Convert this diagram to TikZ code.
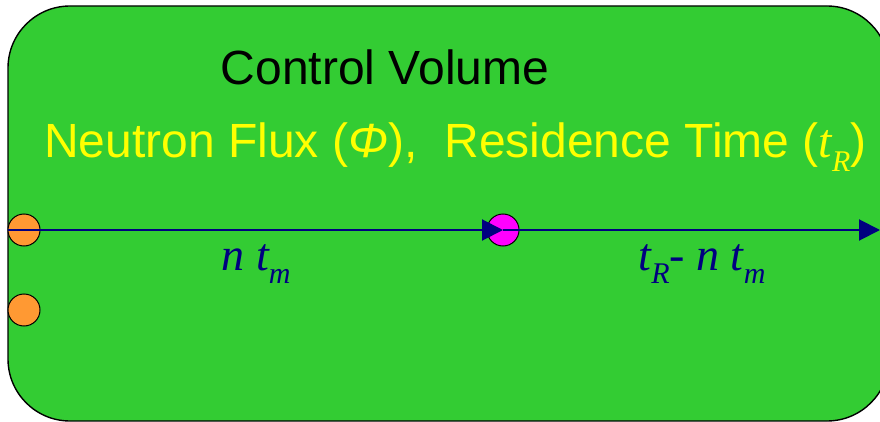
\documentclass[tikz,border=0pt]{standalone}
\usepackage{fontspec}
\setmainfont{Liberation Sans}
\newfontfamily\timesfont{Liberation Serif}
\usetikzlibrary{arrows.meta}
\definecolor{cvgreen}{RGB}{51,204,51}
\definecolor{navy}{RGB}{0,0,128}
\definecolor{fluxyellow}{RGB}{255,255,0}
\definecolor{orbit}{RGB}{255,153,51}
\definecolor{magentadot}{RGB}{255,0,255}
\newcommand{\tvar}[1]{{\timesfont\itshape #1}}
\newcommand{\lowidx}[1]{\raisebox{-13pt}{\fontsize{30}{30}\selectfont\timesfont\itshape #1}}
\tikzset{
  volume/.style={draw=black,line width=1.4pt,fill=cvgreen,rounded corners=62pt},
  atom/.style={circle,draw=black,line width=1pt,minimum size=32pt,inner sep=0pt},
  track/.style={-{Triangle[length=21pt,width=21pt]},draw=navy,line width=2pt},
  title/.style={inner sep=0pt,font=\fontsize{48}{52}\selectfont},
  timelbl/.style={inner sep=0pt,text=navy,font=\fontsize{46}{50}\selectfont\timesfont\itshape}
}
\begin{document}
\begin{tikzpicture}[x=1pt,y=1pt]
\useasboundingbox (0,0) rectangle (880,421);
\draw[volume] (8,0) rectangle (889,415);
\node[title,anchor=base] (cv) at (385,336) {Control Volume};
\node[title,text=fluxyellow,anchor=base west] (flux) at (44,263) {Neutron Flux (\textit{Φ}),\ \ Residence Time (\tvar{t}\lowidx{R})};
\node[atom,fill=orbit] (n1) at (24,191) {};
\node[atom,fill=orbit] (n2) at (24,111) {};
\node[atom,fill=magentadot] (mid) at (503,191) {};
\coordinate (inlet) at (8,191);
\coordinate (outlet) at (880,191);
\draw[track] (inlet) -- (mid.center);
\draw[track] (mid.center) -- (outlet);
\node[timelbl,anchor=base] (lbl1) at (256,151) {n t\lowidx{m}};
\node[timelbl,anchor=base] (lbl2) at (702,151) {t\lowidx{R}- n t\lowidx{m}};
\end{tikzpicture}
\end{document}
